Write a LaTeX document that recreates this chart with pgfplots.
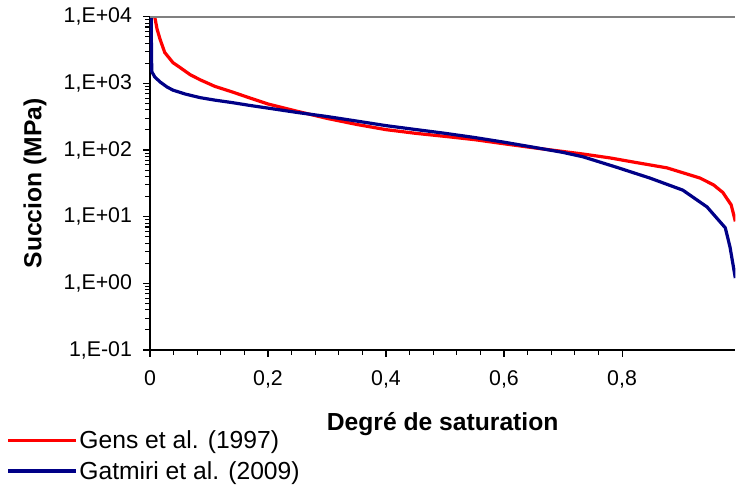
\documentclass[border=0pt]{standalone}
\usepackage{pgfplots}
\pgfplotsset{compat=1.18}
\usepackage{fontspec}
\setmainfont{Liberation Sans}

\definecolor{gensred}{RGB}{255,0,0}
\definecolor{gatblue}{RGB}{0,0,135}

\begin{document}
\begin{tikzpicture}[x=1pt,y=1pt]
\useasboundingbox (0,0) rectangle (552,367.5);
\begin{axis}[
    at={(112.5pt,105pt)}, anchor=south west,
    scale only axis,
    width=439pt, height=250pt,
    xmin=0, xmax=0.992,
    ymode=log, ymin=0.1, ymax=10000,
    axis x line*=bottom, axis y line*=left,
    axis line style={black, line width=1.2pt},
    xtick={0,0.2,0.4,0.6,0.8},
    xticklabels={0,{0,2},{0,4},{0,6},{0,8}},
    minor x tick num=4,
    ytick={0.1,1,10,100,1000,10000},
    yticklabels={{1,E-01},{1,E+00},{1,E+01},{1,E+02},{1,E+03},{1,E+04}},
    tick align=outside,
    major tick length=5pt, minor tick length=3.5pt,
    tick style={black, line width=0.8pt},
    ticklabel style={font=\fontsize{16}{18}\selectfont},
    xticklabel style={yshift=-7pt},
    yticklabel style={xshift=-5pt},
    xlabel={\textbf{Degré de saturation}},
    ylabel={\textbf{Succion (MPa)}},
    label style={font=\fontsize{18.5}{21}\selectfont},
    xlabel style={yshift=-11pt},
    ylabel style={yshift=6pt},
    legend style={at={(-0.245,-0.233)}, anchor=north west, draw=none, fill=none,
        inner sep=0pt, font=\fontsize{18.5}{22.5}\selectfont, row sep=4pt,
        /tikz/every even column/.append style={column sep=2pt},
        /tikz/every odd column/.append style={column sep=-1pt}},
    legend cell align=left,
    legend image code/.code={\draw[#1] (0pt,0pt) -- (51pt,0pt);},
    line join=round,
]
\addplot[gensred, line width=2.4pt] coordinates {
(0.008,10000) (0.012,6500) (0.017,4600) (0.025,2900) (0.039,2040)
(0.05,1750) (0.068,1350) (0.085,1130) (0.11,900) (0.14,740) (0.17,600)
(0.2,490) (0.25,380) (0.3,298) (0.35,242) (0.4,202) (0.45,178)
(0.5,160) (0.55,143) (0.6,124) (0.65,108) (0.7,95) (0.734,87)
(0.78,76) (0.819,66) (0.876,54) (0.932,38) (0.955,30) (0.971,23)
(0.985,15) (0.992,8.5)
};
\addlegendentry{Gens et al. (1997)}
\addplot[gatblue, line width=2.4pt] coordinates {
(0.002,10000) (0.0025,3000) (0.003,1500) (0.008,1250) (0.017,1050)
(0.029,880) (0.039,790) (0.06,690) (0.085,610) (0.11,560) (0.14,513)
(0.17,465) (0.2,425) (0.25,365) (0.3,318) (0.35,272) (0.4,232)
(0.45,203) (0.5,178) (0.55,154) (0.6,131) (0.65,110) (0.7,92)
(0.734,79) (0.791,55) (0.847,38) (0.903,25) (0.944,14) (0.975,6.8)
(0.983,3.5) (0.992,1.2)
};
\addlegendentry{Gatmiri et al. (2009)}
\draw[gray, line width=1.5pt] (rel axis cs:0,1) -- (rel axis cs:1,1);
\end{axis}
\end{tikzpicture}
\end{document}
